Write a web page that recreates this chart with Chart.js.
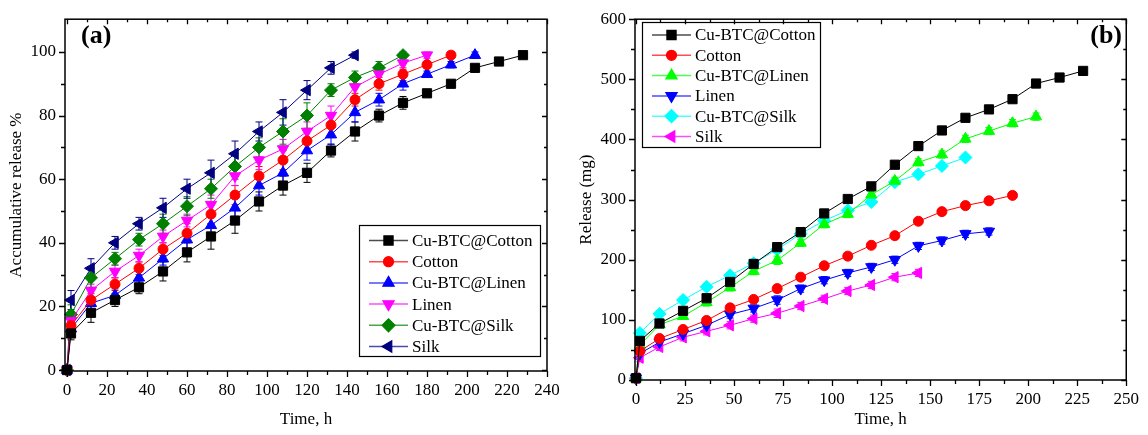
<!DOCTYPE html>
<html><head><meta charset="utf-8">
<script src="https://cdn.jsdelivr.net/npm/chart.js@4/dist/chart.umd.min.js"></script>
<style>
html,body{margin:0;padding:0;background:#fff;}
#wrap{position:relative;width:1148px;height:435px;overflow:hidden;}
canvas{position:absolute;top:0;}
</style></head><body>
<div id="wrap">
<canvas id="ca" width="575" height="435" style="left:0"></canvas>
<canvas id="cb" width="573" height="435" style="left:575px"></canvas>
</div>
<script>
// ---------- data ----------
const seriesNames = ['Cu-BTC@Cotton','Cotton','Cu-BTC@Linen','Linen','Cu-BTC@Silk','Silk'];
const timeH = [0,2,12,24,36,48,60,72,84,96,108,120,132,144,156,168,180,192,204,216,228];

// panel (a): accumulative release %
const a_CuCotton = [0,11.5,18,22,26,31,37,42,47,53,58,62,69,75,80,84,87,90,95,97,99];
const a_Cotton   = [0,14,22,27,32,38,43,49,55,61,66,72,77,85,90,93,96,99];
const a_CuLinen  = [0,13,21,23.5,29,35,41,45.5,51,58,62,69,74,81,85,90,93,96,99];
const a_Linen    = [0,15.5,25,31,36,42,47,52,61,66,69.5,75,80,89,93,96.5,99];
const a_CuSilk   = [0,17.5,29,35,41,46,51.5,57,64,70,75,80,88,92,95,99];
const a_Silk     = [0,22,32,40,46,51,57,62,68,75,81,88,95,99];

const aErr_CuCotton = [0,2,3,2,2,3,3,4,4,3,3,3,2,3,2,2,1,1,1,1,1];
const aErr_Cotton   = [0,2,2,2,2,2,3,3,3,3,3,3,3,2,2,2,1,1];
const aErr_CuLinen  = [0,2,2,2,2,2,3,3,3,3,3,3,3,3,2,2,1,1,1];
const aErr_Linen    = [0,2,2,2,2,2,2,3,3,3,3,3,3,3,2,2,1];
const aErr_CuSilk   = [0,3,3,2,2,3,3,3,4,3,4,4,2,2,2,1];
const aErr_Silk     = [0,3,3,2,2,3,3,4,4,3,4,3,2,1];

// panel (b): release (mg)
const b_CuCotton = [3,65,94,115,136,163,193,221,246,277,301,322,358,389,415,436,450,467,493,503,514];
const b_Cotton   = [3,48,69,84,99,120,134,152,171,190,206,224,240,264,280,290,298,307];
const b_CuLinen  = [3,58,92,106,129,154,181,199,228,259,276,308,331,362,375,401,414,427,438];
const b_Linen    = [3,44,63,77,91,109,119,133,152,166,178,188,200,223,232,243,247];
const b_CuSilk   = [3,78,110,133,155,174,194,217,243,265,282,296,329,342,356,370];
const b_Silk     = [3,37,55,71,81,91,102,111,123,135,148,158,171,178];

const bErr_CuCotton = [0,5,4,5,5,5,5,6,5,5,5,5,5,5,5,5,4,4,4,4,4];
const bErr_Cotton   = [0,5,5,5,5,5,5,6,5,5,5,5,5,5,5,5,4,4];
const bErr_CuLinen  = [0,6,5,5,6,6,6,7,6,6,6,6,6,6,6,6,6,6,6];
const bErr_Linen    = [0,5,5,5,5,6,6,7,6,6,6,6,6,6,6,6,6];
const bErr_CuSilk   = [0,6,5,5,5,5,5,6,5,5,5,5,5,5,5,5];
const bErr_Silk     = [0,6,6,6,6,6,6,7,6,6,6,6,6,6];

// ticks
const xTicksA = [0,20,40,60,80,100,120,140,160,180,200,220,240];
const xMinorA = [10,30,50,70,90,110,130,150,170,190,210,230];
const yTicksA = [0,20,40,60,80,100];
const yMinorA = [10,30,50,70,90];
const xTicksB = [0,25,50,75,100,125,150,175,200,225,250];
const xMinorB = [12.5,37.5,62.5,87.5,112.5,137.5,162.5,187.5,212.5,237.5];
const yTicksB = [0,100,200,300,400,500,600];
const yMinorB = [50,150,250,350,450,550];

// ---------- helpers ----------
const FONT = "'Liberation Serif','Times New Roman',serif";
function pts(vals){ return vals.map((v,i)=>({x:timeH[i], y:v})); }

function ds(label, vals, errs, color, style, rot, radius){
  return {label, data: pts(vals), errors: errs, borderColor: color, backgroundColor: color,
    borderWidth: 1, pointStyle: style, pointRotation: rot, pointRadius: radius,
    pointBorderWidth: 1, pointHoverRadius: radius, tension: 0, fill: false, clip: false};
}

const errorBarPlugin = {
  id: 'errorBars',
  beforeDatasetsDraw(chart){
    const ctx = chart.ctx, ys = chart.scales.y;
    chart.data.datasets.forEach((d, di) => {
      const meta = chart.getDatasetMeta(di);
      if (!d.errors) return;
      ctx.save();
      ctx.strokeStyle = d.borderColor; ctx.lineWidth = 1;
      meta.data.forEach((p, i) => {
        const e = d.errors[i]; if (!e) return;
        const v = d.data[i].y;
        const y1 = ys.getPixelForValue(v + e), y2 = ys.getPixelForValue(v - e);
        ctx.beginPath();
        ctx.moveTo(p.x, y1); ctx.lineTo(p.x, y2);
        ctx.moveTo(p.x - 3.5, y1); ctx.lineTo(p.x + 3.5, y1);
        ctx.moveTo(p.x - 3.5, y2); ctx.lineTo(p.x + 3.5, y2);
        ctx.stroke();
      });
      ctx.restore();
    });
  }
};

const framePlugin = {
  id: 'frame',
  afterDraw(chart, args, o){
    const {ctx, chartArea: ca} = chart;
    const xs = chart.scales.x, ys = chart.scales.y;
    ctx.save();
    ctx.strokeStyle = '#000';
    ctx.lineWidth = 1.5;
    ctx.strokeRect(ca.left, ca.top, ca.right - ca.left, ca.bottom - ca.top);
    ctx.lineWidth = 1.3;
    ctx.beginPath();
    const xt = (vals, len) => vals.forEach(v => { const px = Math.round(xs.getPixelForValue(v)) + 0.5;
      ctx.moveTo(px, ca.bottom); ctx.lineTo(px, ca.bottom + len);
      ctx.moveTo(px, ca.top); ctx.lineTo(px, ca.top + len - 1); });
    const yt = (vals, len) => vals.forEach(v => { const py = Math.round(ys.getPixelForValue(v)) + 0.5;
      ctx.moveTo(ca.left - len, py); ctx.lineTo(ca.left, py);
      ctx.moveTo(ca.right - len + 1, py); ctx.lineTo(ca.right, py); });
    xt(o.xMajor, 6); xt(o.xMinor, 4); yt(o.yMajor, 6); yt(o.yMinor, 4);
    ctx.stroke();
    // panel tag
    ctx.fillStyle = '#000';
    ctx.font = "bold 26px " + FONT;
    ctx.textBaseline = 'middle';
    ctx.textAlign = o.tagAlign;
    ctx.fillText(o.tag, o.tagX, o.tagY);
    ctx.restore();
  }
};

const legendPlugin = {
  id: 'boxLegend',
  afterDatasetsDraw(chart, args, o){
    const ctx = chart.ctx;
    ctx.save();
    ctx.fillStyle = '#fff';
    ctx.fillRect(o.x, o.y, o.w, o.h);
    ctx.strokeStyle = '#000'; ctx.lineWidth = 1.2;
    ctx.strokeRect(o.x + 0.5, o.y + 0.5, o.w, o.h);
    chart.data.datasets.forEach((d, i) => {
      const cy = o.y + o.first + i * o.rowH;
      const lx = o.x + 10;
      ctx.save();
      ctx.globalAlpha = 0.7;
      ctx.strokeStyle = d.borderColor; ctx.lineWidth = 1.5;
      ctx.beginPath(); ctx.moveTo(lx, cy); ctx.lineTo(lx + 39, cy); ctx.stroke();
      ctx.restore();
      ctx.fillStyle = d.backgroundColor; ctx.strokeStyle = d.borderColor;
      Chart.helpers.drawPoint(ctx, {pointStyle: d.pointStyle, rotation: d.pointRotation, radius: d.pointRadius, borderWidth: 1}, lx + 19.5, cy);
      ctx.fillStyle = '#000';
      ctx.font = "17px " + FONT;
      ctx.textBaseline = 'middle'; ctx.textAlign = 'left';
      ctx.fillText(d.label, lx + 43, cy + 1);
    });
    ctx.restore();
  }
};

function scaleOpts(min, max, ticks, yAxis, width, title, titlePad, tickPad){
  return {
    type: 'linear', min, max,
    afterBuildTicks: s => { s.ticks = ticks.map(v => ({value: v})); },
    afterFit: s => { if (yAxis) s.width = width; else s.height = width; },
    grid: {display: false, drawTicks: false},
    border: {display: false},
    ticks: {color: '#000', font: {family: FONT, size: 17}, padding: tickPad, maxRotation: 0, autoSkip: false},
    title: {display: true, text: title, color: '#000', font: {family: FONT, size: 17}, padding: titlePad}
  };
}

function makeChart(id, datasets, xs, ys, pad, frame, legend){
  return new Chart(document.getElementById(id), {
    type: 'line',
    data: {datasets},
    options: {
      responsive: false, animation: false, devicePixelRatio: 1,
      layout: {padding: pad},
      plugins: {legend: {display: false}, tooltip: {enabled: false}, frame, boxLegend: legend},
      scales: {x: xs, y: ys}
    },
    plugins: [errorBarPlugin, framePlugin, legendPlugin]
  });
}

// ---------- panel (a) ----------
const dsA = [
  ds(seriesNames[0], a_CuCotton, aErr_CuCotton, '#000000', 'rect', 0, 6.5),
  ds(seriesNames[1], a_Cotton,   aErr_Cotton,   '#ff0000', 'circle', 0, 5),
  ds(seriesNames[2], a_CuLinen,  aErr_CuLinen,  '#0000ff', 'triangle', 0, 6.5),
  ds(seriesNames[3], a_Linen,    aErr_Linen,    '#ff00ff', 'triangle', 180, 6.5),
  ds(seriesNames[4], a_CuSilk,   aErr_CuSilk,   '#008000', 'rectRot', 0, 6.5),
  ds(seriesNames[5], a_Silk,     aErr_Silk,     '#000080', 'triangle', -90, 6.5)
];
makeChart('ca', dsA,
  scaleOpts(-1, 240, xTicksA, false, 64, 'Time, h', {top: 4, bottom: 5}, 9),
  scaleOpts(-0.3, 110.3, yTicksA, true, 65, 'Accumulative release %', {top: 6, bottom: 0}, 9),
  {left: 0, right: 28, top: 15, bottom: 0},
  {xMajor: xTicksA, xMinor: xMinorA, yMajor: yTicksA, yMinor: yMinorA, tag: '(a)', tagX: 81, tagY: 36, tagAlign: 'left'},
  {x: 359, y: 225, w: 181, h: 131, first: 15.5, rowH: 21.2}
);

// ---------- panel (b) ----------
const dsB = [
  ds(seriesNames[0], b_CuCotton, bErr_CuCotton, '#000000', 'rect', 0, 6.5),
  ds(seriesNames[1], b_Cotton,   bErr_Cotton,   '#ff0000', 'circle', 0, 5),
  ds(seriesNames[2], b_CuLinen,  bErr_CuLinen,  '#00ff00', 'triangle', 0, 6.5),
  ds(seriesNames[3], b_Linen,    bErr_Linen,    '#0000ff', 'triangle', 180, 6.5),
  ds(seriesNames[4], b_CuSilk,   bErr_CuSilk,   '#00ffff', 'rectRot', 0, 6.5),
  ds(seriesNames[5], b_Silk,     bErr_Silk,     '#ff00ff', 'triangle', -90, 6.5)
];
makeChart('cb', dsB,
  scaleOpts(-0.5, 250, xTicksB, false, 55, 'Time, h', {top: 4, bottom: 5}, 9),
  scaleOpts(0, 600, yTicksB, true, 60, 'Release (mg)', {top: 1, bottom: 0}, 9),
  {left: 0, right: 19, top: 15, bottom: 0},
  {xMajor: xTicksB, xMinor: xMinorB, yMajor: yTicksB, yMinor: yMinorB, tag: '(b)', tagX: 547, tagY: 36, tagAlign: 'right'},
  {x: 67, y: 22, w: 178, h: 125, first: 13, rowH: 20.3}
);
</script>
</body></html>
